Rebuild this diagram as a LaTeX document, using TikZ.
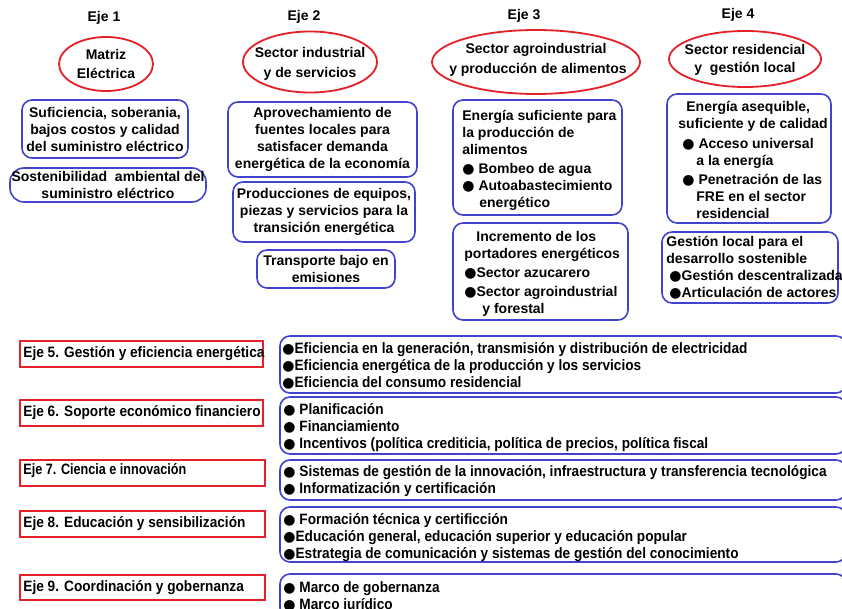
\documentclass[tikz,border=0pt]{standalone}
\usepackage{fontspec}
\setmainfont{Liberation Sans}
\newfontfamily\narrowfont[FakeStretch=0.91]{Liberation Sans}
\newfontfamily\narrowerfont[FakeStretch=0.84]{Liberation Sans}
\newfontfamily\symfont{DejaVu Sans}
\usetikzlibrary{shapes.geometric}
\definecolor{ered}{RGB}{228,32,40}
\definecolor{eblue}{RGB}{66,66,204}
\newcommand{\bl}{{\symfont\fontsize{14}{14}\selectfont ●}}
\begin{document}
\begin{tikzpicture}[x=1pt,y=-1pt,
  every node/.style={font=\fontsize{14}{17}\selectfont\bfseries, inner sep=0pt},
  oval/.style={ellipse, draw=ered, line width=1.8pt},
  ovaltext/.style={align=center, font=\fontsize{14}{19.5}\selectfont\bfseries},
  bbox/.style={draw=eblue, line width=1.6pt, rounded corners=10pt, align=center},
  rbox/.style={draw=ered, line width=1.5pt},
  nar/.style={font=\narrowfont\bfseries\fontsize{15}{17}\selectfont, align=left},
  txt/.style={align=left}
]
\useasboundingbox (0,0) rectangle (842,609);
\fill[white] (0,0) rectangle (842,609);
\clip (0,0) rectangle (842,609);

% headers
\node (h1) at (104,18) {Eje 1};
\node (h2) at (304,17) {Eje 2};
\node (h3) at (524,16) {Eje 3};
\node (h4) at (738,15) {Eje 4};

% ellipses
\node[oval, minimum width=94pt, minimum height=54pt] (e1) at (106,64) {};
\node[ovaltext] (e1t) at (e1.center) {Matriz\\Eléctrica};
\node[oval, minimum width=134pt, minimum height=61pt] (e2) at (310,62) {};
\node[ovaltext] (e2t) at ([yshift=-2pt]e2.center) {Sector industrial\\y de servicios};
\node[oval, minimum width=208pt, minimum height=64pt] (e3) at (536,62) {};
\node[ovaltext] (e3t) at ([yshift=2pt]e3.center) {Sector agroindustrial\\\ y producción de alimentos};
\node[oval, minimum width=152pt, minimum height=56pt] (e4) at (745,59) {};
\node[ovaltext, font=\fontsize{14}{17.5}\selectfont\bfseries] (e4t) at ([yshift=-1pt]e4.center) {Sector residencial\\y\ \ gestión local};

% Eje 1
\node[bbox, minimum width=166pt, minimum height=58pt] (b1a) at (105,129) {Suficiencia, soberania,\\bajos costos y calidad\\del suministro eléctrico};
\node[bbox, rounded corners=14pt, minimum width=196pt, minimum height=34pt] (b1b) at (108,185) {Sostenibilidad\ \ ambiental del\\suministro eléctrico};

% Eje 2
\node[bbox, minimum width=189pt, minimum height=75pt] (b2a) at (322.5,139.5) {Aprovechamiento de\\fuentes locales para\\satisfacer demanda\\energética de la economía};
\node[bbox, minimum width=182pt, minimum height=60pt] (b2b) at (324,212) {Producciones de equipos,\\piezas y servicios para la\\transición energética};
\node[bbox, minimum width=138pt, minimum height=38pt] (b2c) at (326,269) {Transporte bajo en\\emisiones};

% Eje 3
\node[bbox, minimum width=169pt, minimum height=115pt] (b3a) at (537.5,157.5) {};
\node[txt, anchor=west, xshift=10pt, yshift=-2.5pt] (t3a) at (b3a.west) {Energía suficiente para\\la producción de\\alimentos\\[2pt]\bl\ Bombeo de agua\\\bl\ Autoabastecimiento\\\hspace*{17pt}energético};
\node[bbox, minimum width=175pt, minimum height=97pt] (b3b) at (540.5,271.5) {};
\node[txt, anchor=west, xshift=12pt, yshift=-2.5pt] (t3b) at (b3b.west) {\hspace*{12pt}Incremento de los\\portadores energéticos\\[2pt]\bl Sector azucarero\\[2pt]\bl Sector agroindustrial\\\hspace*{18pt}y forestal};

% Eje 4
\node[bbox, minimum width=164pt, minimum height=129pt] (b4a) at (749,158.5) {};
\node[txt, anchor=west, xshift=12pt, yshift=-1pt] (t4a) at (b4a.west) {\hspace*{8pt}Energía asequible,\\suficiente y de calidad\\[3pt]\hspace*{4pt}\bl\ Acceso universal\\\hspace*{18pt}a la energía\\[2pt]\hspace*{4pt}\bl\ Penetración de las\\\hspace*{18pt}FRE en el sector\\\hspace*{18pt}residencial};
\node[bbox, minimum width=176pt, minimum height=71pt] (b4b) at (750,267.5) {};
\node[txt, anchor=west, xshift=5pt] (t4b) at (b4b.west) {Gestión local para el\\desarrollo sostenible\\\hspace*{3pt}\bl Gestión descentralizada\\\hspace*{3pt}\bl Articulación de actores};

% lower section: red labels
\node[rbox, minimum width=243pt, minimum height=26pt] (r5) at (141.5,354) {};
\node[nar, anchor=west, xshift=4pt] (l5) at (r5.west) {Eje 5. Gestión y eficiencia energética};
\node[rbox, minimum width=243pt, minimum height=26pt] (r6) at (141.5,413) {};
\node[nar, anchor=west, xshift=4pt] (l6) at (r6.west) {Eje 6. Soporte económico financiero};
\node[rbox, minimum width=245pt, minimum height=26pt] (r7) at (142.5,473) {};
\node[nar, font=\narrowerfont\bfseries\fontsize{15}{17}\selectfont, anchor=west, xshift=4pt, yshift=2pt] (l7) at (r7.west) {Eje 7. Ciencia e innovación};
\node[rbox, minimum width=245pt, minimum height=26pt] (r8) at (142.5,524) {};
\node[nar, anchor=west, xshift=4pt] (l8) at (r8.west) {Eje 8. Educación y sensibilización};
\node[rbox, minimum width=245pt, minimum height=25pt] (r9) at (142.5,587.5) {};
\node[nar, anchor=west, xshift=4pt] (l9) at (r9.west) {Eje 9. Coordinación y gobernanza};

% lower section: blue boxes
\node[bbox, minimum width=566pt, minimum height=57pt] (b5) at (563,364.5) {};
\node[nar, anchor=west, xshift=3pt, yshift=-1.5pt] (t5) at (b5.west) {\bl Eficiencia en la generación, transmisión y distribución de electricidad\\\bl Eficiencia energética de la producción y los servicios\\\bl Eficiencia del consumo residencial};
\node[bbox, minimum width=566pt, minimum height=57pt] (b6) at (563,425.5) {};
\node[nar, anchor=west, xshift=4pt, yshift=-2.5pt] (t6) at (b6.west) {\bl\ Planificación\\\bl\ Financiamiento\\\bl\ Incentivos (política crediticia, política de precios, política fiscal};
\node[bbox, minimum width=566pt, minimum height=40pt] (b7) at (563,480) {};
\node[nar, anchor=west, xshift=4pt, yshift=-1.5pt] (t7) at (b7.west) {\bl\ Sistemas de gestión de la innovación, infraestructura y transferencia tecnológica\\\bl\ Informatización y certificación};
\node[bbox, minimum width=566pt, minimum height=55pt] (b8) at (563,534.5) {};
\node[nar, anchor=west, xshift=4pt, yshift=-3pt] (t8) at (b8.west) {\bl\ Formación técnica y certificción\\\bl Educación general, educación superior y educación popular\\\bl Estrategia de comunicación y sistemas de gestión del conocimiento};
\node[bbox, minimum width=566pt, minimum height=44pt] (b9) at (563,596) {};
\node[nar, anchor=west, xshift=4pt, yshift=-1pt] (t9) at (b9.west) {\bl\ Marco de gobernanza\\\bl\ Marco jurídico};
\end{tikzpicture}
\end{document}
